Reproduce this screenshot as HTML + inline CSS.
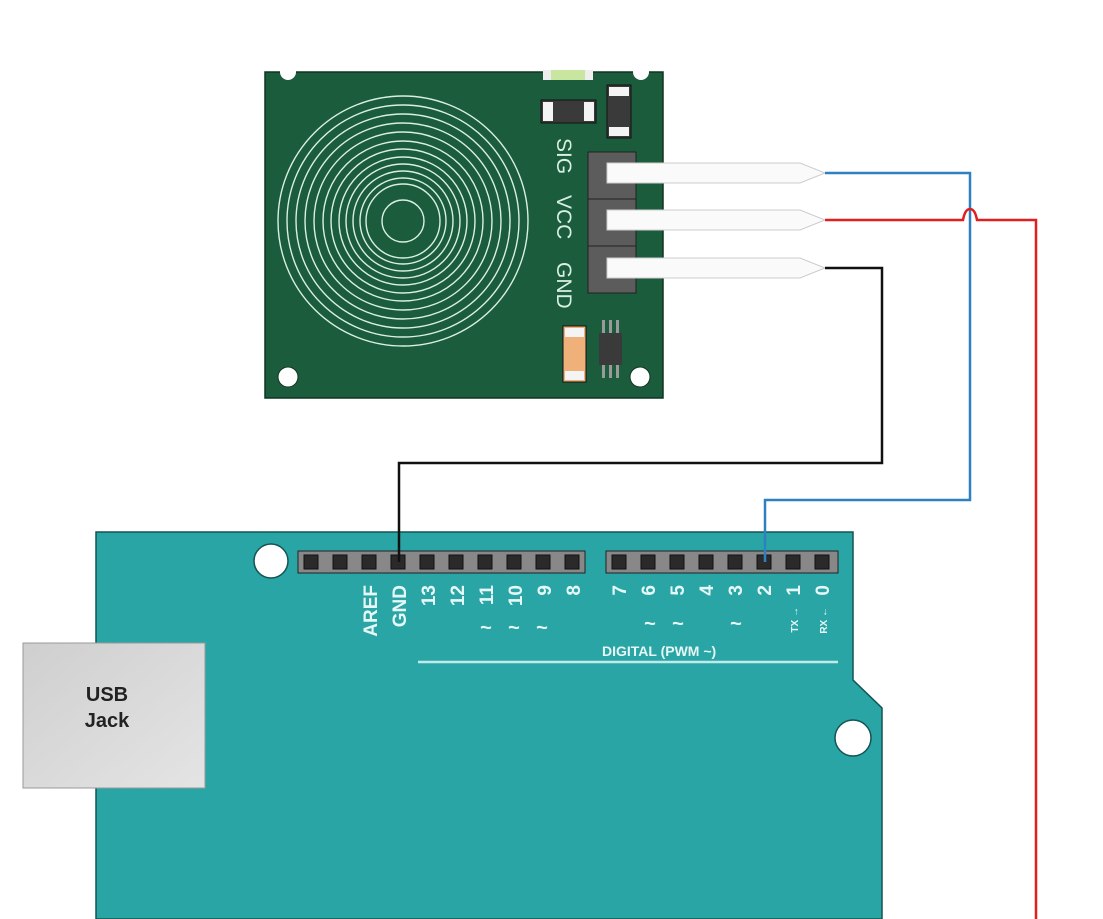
<!DOCTYPE html>
<html><head><meta charset="utf-8"><style>
html,body{margin:0;padding:0;background:#fff;}
svg{display:block;}
text{font-family:"Liberation Sans",sans-serif;}
</style></head><body>
<svg width="1103" height="919" viewBox="0 0 1103 919" xmlns="http://www.w3.org/2000/svg">
<defs>
<linearGradient id="usb" x1="0" y1="0" x2="1" y2="1"><stop offset="0" stop-color="#cfcfcf"/><stop offset="1" stop-color="#e4e4e4"/></linearGradient>
</defs>
<rect x="265" y="72" width="398" height="326" fill="#1b5c3c" stroke="#0f3522" stroke-width="1.5"/>
<circle cx="288" cy="72" r="8" fill="#fff"/>
<circle cx="641" cy="72" r="8" fill="#fff"/>
<circle cx="288" cy="377" r="10" fill="#fff" stroke="#0f3522"/>
<circle cx="640" cy="377" r="10" fill="#fff" stroke="#0f3522"/>
<g fill="none" stroke="#d8efe4" stroke-width="1.4">
<circle cx="403" cy="221" r="21"/>
<circle cx="403" cy="221" r="37"/>
<circle cx="403" cy="221" r="43"/>
<circle cx="403" cy="221" r="50"/>
<circle cx="403" cy="221" r="57"/>
<circle cx="403" cy="221" r="64"/>
<circle cx="403" cy="221" r="72"/>
<circle cx="403" cy="221" r="80"/>
<circle cx="403" cy="221" r="89"/>
<circle cx="403" cy="221" r="98"/>
<circle cx="403" cy="221" r="107"/>
<circle cx="403" cy="221" r="116"/>
<circle cx="403" cy="221" r="125"/>
</g>
<rect x="543" y="70" width="50" height="10" fill="#c8e6a0"/>
<rect x="543" y="70" width="8" height="10" fill="#eee"/><rect x="585" y="70" width="8" height="10" fill="#eee"/>
<rect x="541" y="100" width="55" height="23" fill="#3a3a3a" stroke="#111"/>
<rect x="543" y="102" width="10" height="19" fill="#f4f4f4"/><rect x="584" y="102" width="10" height="19" fill="#f4f4f4"/>
<rect x="607" y="85" width="24" height="53" fill="#3a3a3a" stroke="#111"/>
<rect x="609" y="87" width="20" height="9" fill="#f4f4f4"/><rect x="609" y="127" width="20" height="9" fill="#f4f4f4"/>
<rect x="563" y="326" width="23" height="56" fill="#f0b07a" stroke="#111"/>
<rect x="565" y="328" width="19" height="9" fill="#f4f4f4"/><rect x="565" y="371" width="19" height="9" fill="#f4f4f4"/>
<g fill="#9a9a9a"><rect x="602" y="320" width="3" height="58"/><rect x="609" y="320" width="3" height="58"/><rect x="616" y="320" width="3" height="58"/></g>
<rect x="599" y="333" width="23" height="32" fill="#3a3a3a"/>
<g fill="#d8efe4" font-size="21">
<text transform="translate(557,138) rotate(90)">SIG</text>
<text transform="translate(557,195) rotate(90)">VCC</text>
<text transform="translate(557,262) rotate(90)">GND</text>
</g>
<rect x="588" y="152" width="48" height="141" fill="#5c5c5c" stroke="#222"/>
<line x1="588" y1="199" x2="636" y2="199" stroke="#222"/>
<line x1="588" y1="246" x2="636" y2="246" stroke="#222"/>
<g fill="#fafafa" stroke="#ccc">
<path d="M607 163 H800 L825 173 L800 183 H607 Z"/>
<path d="M607 210 H800 L825 220 L800 230 H607 Z"/>
<path d="M607 258 H800 L825 268 L800 278 H607 Z"/>
</g>
<path d="M96 532 H853 V680 L882 708 V919 H96 Z" fill="#2aa5a5" stroke="#135454" stroke-width="1.5"/>
<circle cx="271" cy="561" r="17" fill="#fff" stroke="#135454" stroke-width="1.5"/>
<circle cx="853" cy="738" r="18" fill="#fff" stroke="#135454" stroke-width="1.5"/>
<rect x="23" y="643" width="182" height="145" fill="url(#usb)" stroke="#999"/>
<text x="107" y="701" font-size="20" font-weight="bold" fill="#222" text-anchor="middle">USB</text>
<text x="107" y="727" font-size="20" font-weight="bold" fill="#222" text-anchor="middle">Jack</text>
<rect x="298" y="551" width="287" height="22" fill="#888" stroke="#222"/>
<rect x="606" y="551" width="232" height="22" fill="#888" stroke="#222"/>
<g fill="#2a2a2a" stroke="#111">
<rect x="304" y="555" width="14" height="14"/><rect x="333" y="555" width="14" height="14"/><rect x="362" y="555" width="14" height="14"/><rect x="391" y="555" width="14" height="14"/><rect x="420" y="555" width="14" height="14"/><rect x="449" y="555" width="14" height="14"/><rect x="478" y="555" width="14" height="14"/><rect x="507" y="555" width="14" height="14"/><rect x="536" y="555" width="14" height="14"/><rect x="565" y="555" width="14" height="14"/>
<rect x="612" y="555" width="14" height="14"/><rect x="641" y="555" width="14" height="14"/><rect x="670" y="555" width="14" height="14"/><rect x="699" y="555" width="14" height="14"/><rect x="728" y="555" width="14" height="14"/><rect x="757" y="555" width="14" height="14"/><rect x="786" y="555" width="14" height="14"/><rect x="815" y="555" width="14" height="14"/>
</g>
<g fill="#e6f7f7" font-size="19" font-weight="bold" text-anchor="end">
<text transform="translate(377,585) rotate(-90)">AREF</text>
<text transform="translate(406,585) rotate(-90)">GND</text>
<text transform="translate(435,585) rotate(-90)">13</text>
<text transform="translate(464,585) rotate(-90)">12</text>
<text transform="translate(493,585) rotate(-90)">11</text>
<text transform="translate(522,585) rotate(-90)">10</text>
<text transform="translate(551,585) rotate(-90)">9</text>
<text transform="translate(580,585) rotate(-90)">8</text>
<text transform="translate(626,585) rotate(-90)">7</text>
<text transform="translate(655,585) rotate(-90)">6</text>
<text transform="translate(684,585) rotate(-90)">5</text>
<text transform="translate(713,585) rotate(-90)">4</text>
<text transform="translate(742,585) rotate(-90)">3</text>
<text transform="translate(771,585) rotate(-90)">2</text>
<text transform="translate(800,585) rotate(-90)">1</text>
<text transform="translate(829,585) rotate(-90)">0</text>
</g>
<g fill="#e6f7f7" font-size="20" font-weight="bold" text-anchor="middle">
<text x="486" y="634">~</text><text x="514" y="634">~</text><text x="542" y="634">~</text>
<text x="650" y="630">~</text><text x="678" y="630">~</text><text x="736" y="630">~</text>
</g>
<g fill="#e6f7f7" font-size="10" font-weight="bold" text-anchor="end">
<text transform="translate(798,607) rotate(-90)">TX →</text>
<text transform="translate(827,607) rotate(-90)">RX ←</text>
</g>
<text x="602" y="656" font-size="14" font-weight="bold" fill="#e6f7f7">DIGITAL  (PWM ~)</text>
<line x1="418" y1="662" x2="838" y2="662" stroke="#bfeaea" stroke-width="2.5"/>
<g fill="none" stroke-width="2.5">
<path d="M825 268 H882 V463 H399 V562" stroke="#111"/>
<path d="M825 173 H970 V500 H765 V562" stroke="#2f80c0"/>
<path d="M825 220 H963 Q965 209 970 209 Q975 209 977 220 H1036 V919" stroke="#e02020"/>
</g>
</svg>
</body></html>
